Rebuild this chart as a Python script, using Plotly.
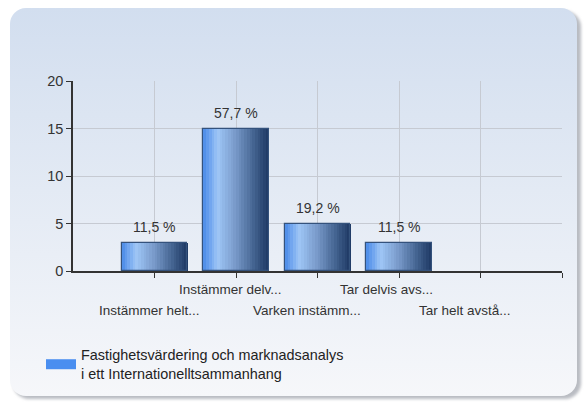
import base64
import plotly.graph_objects as go

# ---- data ----
categories = ["Instämmer helt...", "Instämmer delv...", "Varken instämm...",
              "Tar delvis avs...", "Tar helt avstå..."]
counts = [3, 15, 5, 3, 0]
pct_labels = ["11,5 %", "57,7 %", "19,2 %", "11,5 %", ""]
series_name = "Fastighetsvärdering och marknadsanalys<br>i ett Internationelltsammanhang"
y_ticks = [0, 5, 10, 15, 20]

W, H = 585, 405
ML, MR, MT, MB = 73, 23, 81, 134
PW, PH = W - ML - MR, H - MT - MB

FONT = "Liberation Sans, Arial, sans-serif"
TXT = "#333333"

# ---- background card (decoration) ----
svg = f"""<svg xmlns='http://www.w3.org/2000/svg' width='{W}' height='{H}' viewBox='0 0 {W} {H}'>
<defs>
<linearGradient id='g' x1='0' y1='0' x2='0' y2='1'>
<stop offset='0' stop-color='#d2deef'/>
<stop offset='0.55' stop-color='#e6ecf5'/>
<stop offset='1' stop-color='#f6f7fa'/>
</linearGradient>
<filter id='s' x='-5%' y='-5%' width='110%' height='110%'><feGaussianBlur stdDeviation='1.6'/></filter>
</defs>
<rect x='0' y='0' width='{W}' height='{H}' fill='#ffffff'/>
<rect x='13' y='11' width='568' height='388' rx='16' ry='16' fill='#b9bcc2' filter='url(#s)'/>
<rect x='10' y='8' width='567' height='388' rx='16' ry='16' fill='url(#g)'/>
</svg>"""
bg_src = "data:image/svg+xml;base64," + base64.b64encode(svg.encode("utf-8")).decode()

x_idx = list(range(len(categories)))
bw = 0.8

# gradient stops across the bar width
stops = [(0.0, (0x4a, 0x8a, 0xe8)), (0.22, (0x9e, 0xc6, 0xf6)), (0.5, (0x77, 0x98, 0xc8)),
         (0.78, (0x42, 0x62, 0x8f)), (1.0, (0x1d, 0x38, 0x63))]


def grad(t):
    for (a, ca), (b, cb) in zip(stops[:-1], stops[1:]):
        if a <= t <= b:
            f = (t - a) / (b - a)
            c = [round(ca[i] + (cb[i] - ca[i]) * f) for i in range(3)]
            return f"rgb({c[0]},{c[1]},{c[2]})"
    return "rgb(29,56,99)"


fig = go.Figure()
N = 24
sw = bw / N
for k in range(N):
    fig.add_bar(x=x_idx, y=counts, width=sw * 1.15, offset=-bw / 2 + k * sw,
                marker=dict(color=grad((k + 0.5) / N), line=dict(width=0)),
                showlegend=False, hoverinfo="skip")
# outline
fig.add_bar(x=x_idx, y=counts, width=bw, offset=-bw / 2,
            marker=dict(color="rgba(0,0,0,0)",
                        line=dict(color="#34527c", width=[1.2 if v > 0 else 0 for v in counts])),
            showlegend=False, hoverinfo="skip")
# legend entry
fig.add_scatter(x=[None], y=[None], mode="lines", name=series_name,
                line=dict(color="#4a8ef0", width=10), showlegend=True)

annotations = []
for i, (v, t) in enumerate(zip(counts, pct_labels)):
    if t:
        annotations.append(dict(x=i, y=v, xref="x", yref="y", text=t, showarrow=False,
                                yanchor="bottom", yshift=6,
                                font=dict(family=FONT, size=14, color=TXT)))
label_shift = [-5, -6, -11, -13, -16]
for i, c in enumerate(categories):
    annotations.append(dict(x=i, y=0, xref="x", yref="paper", text=c, showarrow=False,
                            yanchor="middle", yshift=-18 if i % 2 else -39,
                            xshift=label_shift[i],
                            font=dict(family=FONT, size=13.5, color=TXT)))

fig.update_layout(
    width=W, height=H,
    margin=dict(l=ML, r=MR, t=MT, b=MB, pad=0),
    paper_bgcolor="white", plot_bgcolor="rgba(0,0,0,0)",
    barmode="overlay", bargap=0,
    font=dict(family=FONT, size=14, color=TXT),
    images=[dict(source=bg_src, xref="paper", yref="paper",
                 x=-ML / PW, y=1 + MT / PH, sizex=W / PW, sizey=H / PH,
                 xanchor="left", yanchor="top", sizing="stretch", layer="below")],
    annotations=annotations,
    showlegend=True,
    legend=dict(x=(41 - ML) / PW, y=-(68) / PH, xanchor="left", yanchor="top",
                bgcolor="rgba(0,0,0,0)", font=dict(family=FONT, size=14.4, color="#222222"),
                itemwidth=30, tracegroupgap=0),
)
fig.update_xaxes(range=[-1, 5], tickvals=[0, 1, 2, 3, 4, 5], showticklabels=False,
                 ticks="outside", ticklen=5, tickcolor="#333333",
                 showgrid=True, gridcolor="#c6cad2", gridwidth=1,
                 showline=True, linecolor="#333333", linewidth=1.5, zeroline=False)
fig.update_yaxes(range=[0, 20], tickvals=y_ticks, ticks="outside", ticklen=5,
                 tickcolor="#333333", tickfont=dict(family=FONT, size=14.5, color=TXT),
                 showgrid=True, gridcolor="#c6cad2", gridwidth=1,
                 showline=True, linecolor="#333333", linewidth=1.5, zeroline=False)

fig.write_html("out.html", config={"displayModeBar": False},
               post_script="document.body.style.margin='0px';")
